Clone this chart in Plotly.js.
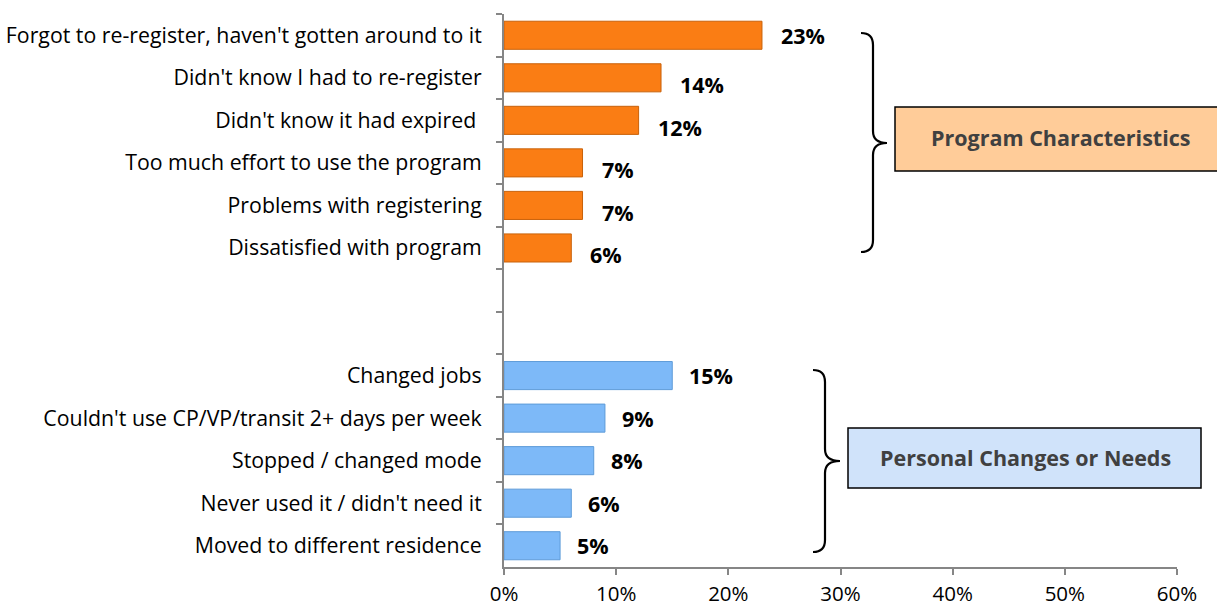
<!DOCTYPE html>
<html><head><meta charset="utf-8">
<script src="https://cdn.plot.ly/plotly-3.0.1.min.js"></script>
<style>html,body{margin:0;padding:0;background:#fff}#chart{width:1217px;height:607px}</style>
</head><body><div id="chart"></div>
<script>
// ---- data ----
const programLabels = [
  "Forgot to re-register, haven't gotten around to it",
  "Didn't know I had to re-register",
  "Didn't know it had expired ",
  "Too much effort to use the program",
  "Problems with registering",
  "Dissatisfied with program"
];
const programValues = [23, 14, 12, 7, 7, 6];
const personalLabels = [
  "Changed jobs",
  "Couldn't use CP/VP/transit 2+ days per week",
  "Stopped / changed mode",
  "Never used it / didn't need it",
  "Moved to different residence"
];
const personalValues = [15, 9, 8, 6, 5];
const spacerLabels = [" ", "  "];
const groupNames = ["Program Characteristics", "Personal Changes or Needs"];
const xTickVals = [0, 10, 20, 30, 40, 50, 60];
const xTickText = ["0%", "10%", "20%", "30%", "40%", "50%", "60%"];

const categories = programLabels.concat(spacerLabels, personalLabels);

// ---- geometry helpers (plot area in pixels) ----
const W = 1217, H = 607;
const mL = 504, mR = 40, mT = 14, mB = 40;
const pw = W - mL - mR, ph = H - mT - mB;
const px = x => (x - mL) / pw;
const py = y => (H - mB - y) / ph;

function brace(xa, xv, xt, yt, ym, yb, r) {
  const P = (x, y) => px(x).toFixed(5) + ',' + py(y).toFixed(5);
  return 'M' + P(xa, yt) +
    ' Q' + P(xv, yt) + ' ' + P(xv, yt + r) +
    ' L' + P(xv, ym - r) +
    ' Q' + P(xv, ym) + ' ' + P(xt, ym) +
    ' Q' + P(xv, ym) + ' ' + P(xv, ym + r) +
    ' L' + P(xv, yb - r) +
    ' Q' + P(xv, yb) + ' ' + P(xa, yb);
}

const baseFont = "'Open Sans', sans-serif";

const traces = [
  {
    type: 'bar', orientation: 'h',
    y: programLabels, x: programValues,
    marker: {color: '#FA7D14', line: {color: '#C9620A', width: 1}},
    width: 0.66, hoverinfo: 'x+y'
  },
  {
    type: 'bar', orientation: 'h',
    y: personalLabels, x: personalValues,
    marker: {color: '#7DB9F8', line: {color: '#5E9BD8', width: 1}},
    width: 0.66, hoverinfo: 'x+y'
  }
];

const annotations = [];
programLabels.forEach((c, i) => annotations.push({
  x: programValues[i], y: c, xref: 'x', yref: 'y', text: '<b>' + programValues[i] + '%</b>',
  showarrow: false, xanchor: 'left', yanchor: 'middle', xshift: 17, yshift: i === 0 ? 0 : -7,
  font: {family: baseFont, size: 21.5, color: '#000'}
}));
personalLabels.forEach((c, i) => annotations.push({
  x: personalValues[i], y: c, xref: 'x', yref: 'y', text: '<b>' + personalValues[i] + '%</b>',
  showarrow: false, xanchor: 'left', yanchor: 'middle', xshift: 15,
  font: {family: baseFont, size: 21.5, color: '#000'}
}));
annotations.push({
  x: px(1060), y: py(137), xref: 'paper', yref: 'paper', text: '<b>' + groupNames[0] + '</b>',
  showarrow: false, xanchor: 'center', yanchor: 'middle',
  font: {family: baseFont, size: 21.5, color: '#404040'}
});
annotations.push({
  x: px(1025), y: py(458), xref: 'paper', yref: 'paper', text: '<b>' + groupNames[1] + '</b>',
  showarrow: false, xanchor: 'center', yanchor: 'middle',
  font: {family: baseFont, size: 21.5, color: '#404040'}
});

const shapes = [
  {type: 'rect', xref: 'paper', yref: 'paper', x0: px(895), x1: px(1222), y0: py(171), y1: py(107),
   fillcolor: '#FFCC99', line: {color: '#000', width: 1.5}, layer: 'below'},
  {type: 'rect', xref: 'paper', yref: 'paper', x0: px(848), x1: px(1201), y0: py(488), y1: py(428),
   fillcolor: '#D0E3FA', line: {color: '#000', width: 1.5}, layer: 'below'},
  {type: 'path', xref: 'paper', yref: 'paper', path: brace(861, 873, 887, 33, 143, 252, 12),
   line: {color: '#000', width: 2.2}},
  {type: 'path', xref: 'paper', yref: 'paper', path: brace(813, 825, 840, 370, 461, 552, 12),
   line: {color: '#000', width: 2.2}}
];

const layout = {
  width: W, height: H,
  margin: {l: mL, r: mR, t: mT, b: mB, pad: 0},
  paper_bgcolor: '#fff', plot_bgcolor: 'rgba(0,0,0,0)',
  showlegend: false, bargap: 0.34,
  font: {family: baseFont, size: 21, color: '#000'},
  xaxis: {
    range: [0, 60], tickvals: xTickVals, ticktext: xTickText,
    showgrid: false, zeroline: false, showline: true, linecolor: '#868686', linewidth: 2,
    ticks: 'outside', ticklen: 6, tickcolor: '#868686', tickwidth: 1.5,
    ticklabelstandoff: 1, tickfont: {family: baseFont, size: 20.5, color: '#000'},
    fixedrange: true
  },
  yaxis: {
    type: 'category', categoryorder: 'array', categoryarray: categories,
    autorange: 'reversed', tickson: 'boundaries',
    showgrid: false, zeroline: false, showline: true, linecolor: '#868686', linewidth: 2,
    ticks: 'outside', ticklen: 6, tickcolor: '#868686', tickwidth: 1.5,
    ticklabelstandoff: 16, tickfont: {family: baseFont, size: 21.3, color: '#000'},
    fixedrange: true
  },
  annotations: annotations,
  shapes: shapes
};

Plotly.newPlot('chart', traces, layout, {displayModeBar: false, responsive: false});
</script>
</body></html>
